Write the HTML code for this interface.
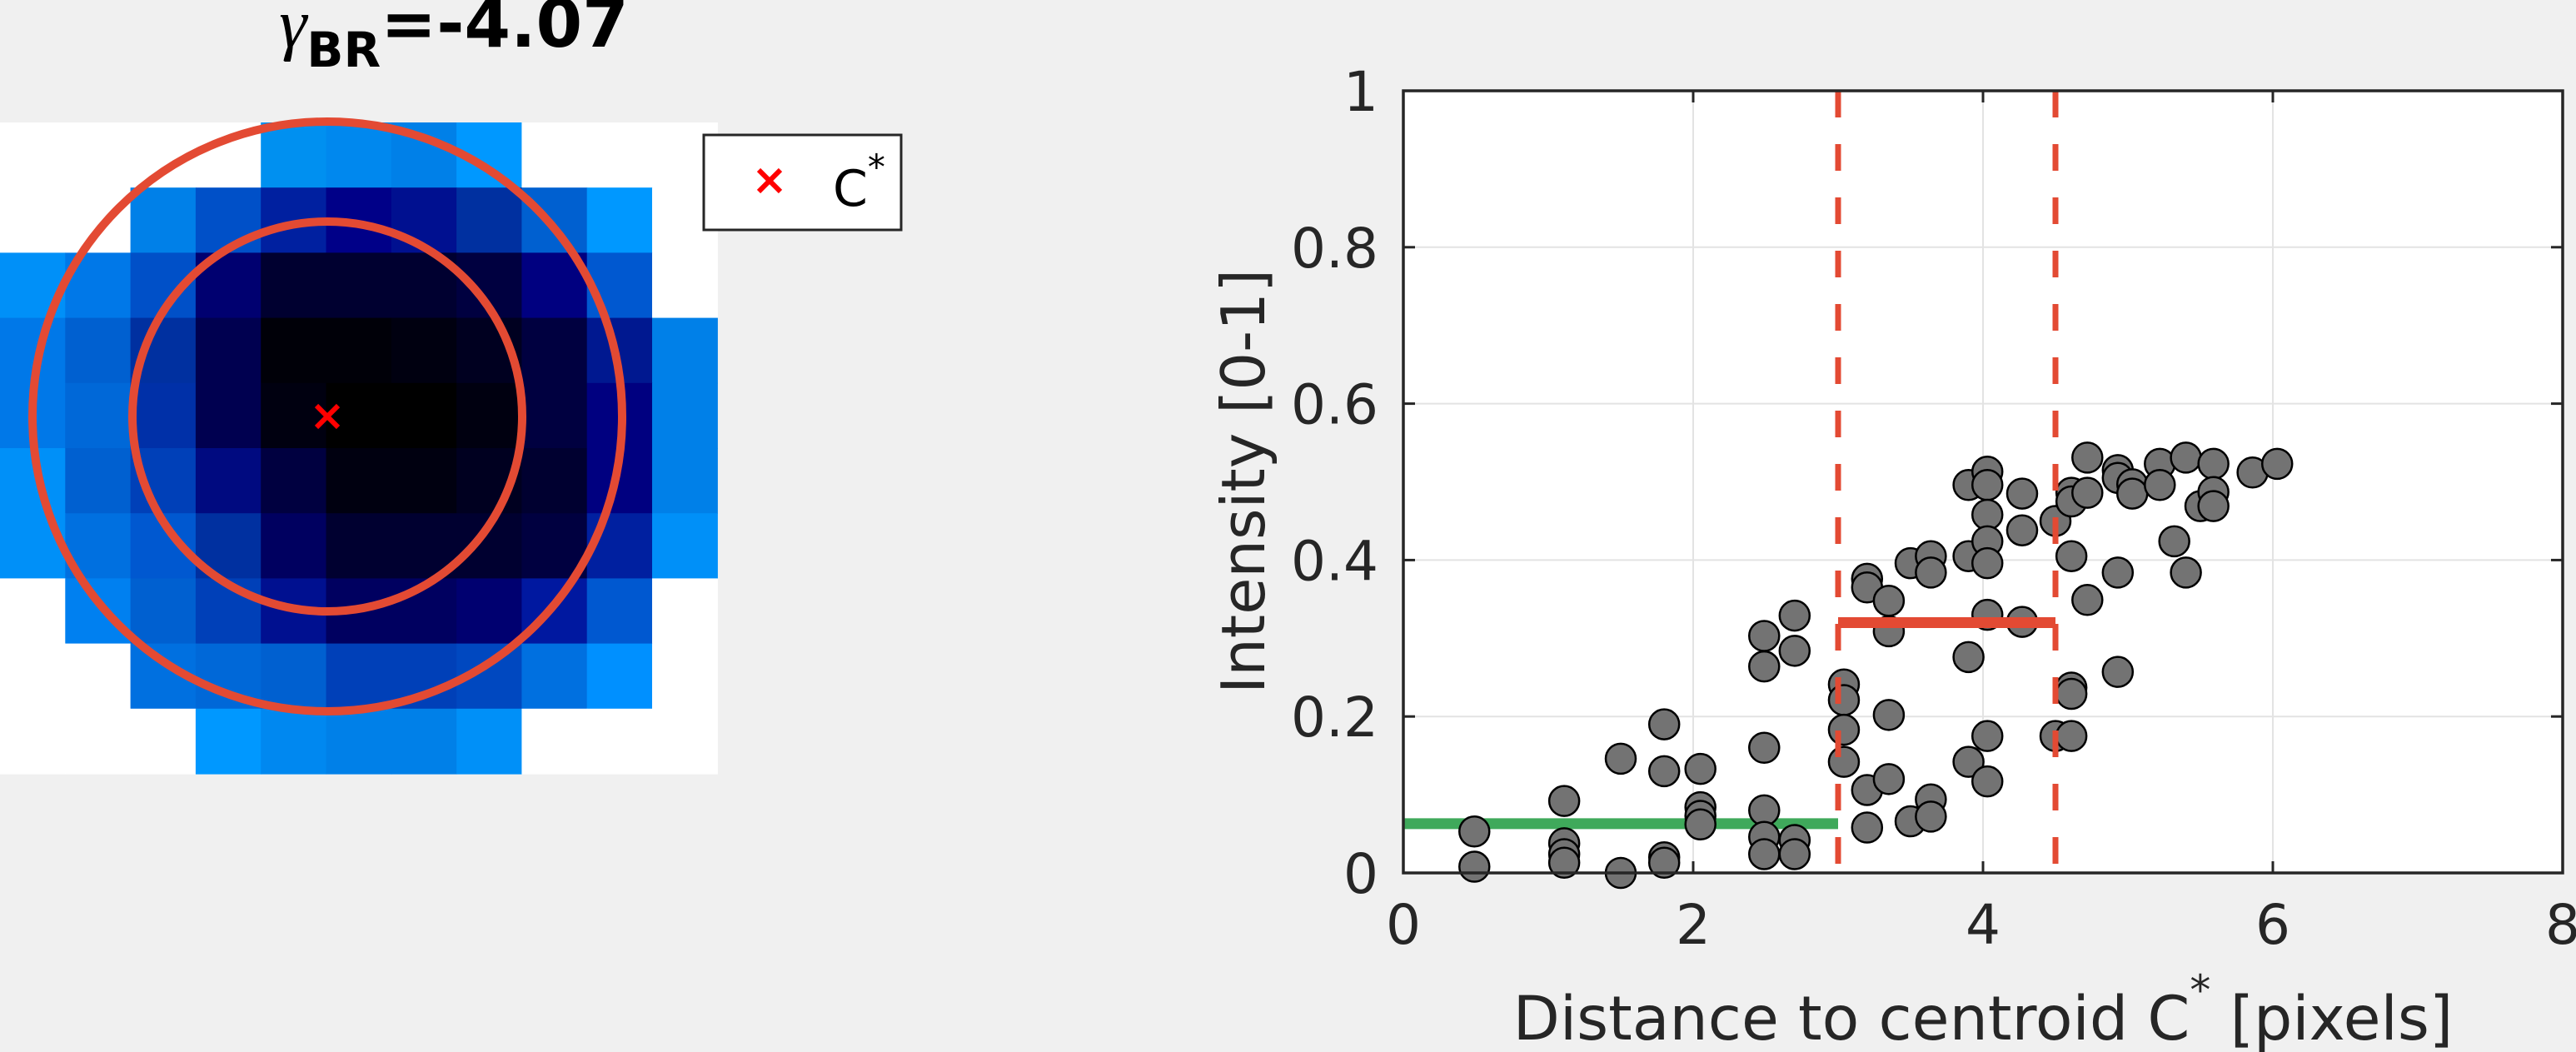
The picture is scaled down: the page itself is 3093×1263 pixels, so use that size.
<!DOCTYPE html>
<html><head><meta charset="utf-8">
<style>
html,body{margin:0;padding:0;background:#f0f0f0;}
svg{display:block;font-family:"DejaVu Sans","Liberation Sans",sans-serif;}
</style></head>
<body>
<svg id="fig" width="3093" height="1263" viewBox="0 0 3093 1263" xmlns="http://www.w3.org/2000/svg">
<rect width="3093" height="1263" fill="#f0f0f0"/>
<g id="left"></g>
<text x="545" y="56" text-anchor="middle" font-size="80" font-weight="bold" fill="#000"><tspan font-style="italic" font-weight="normal" font-family="Liberation Serif, serif" font-size="84">γ</tspan><tspan font-size="58" dy="24">BR</tspan><tspan dy="-24">=-4.07</tspan></text>
<g>
<rect x="845" y="162" width="237" height="114" fill="#fff" stroke="#262626" stroke-width="3"/>
<g stroke="#ff0000" stroke-width="6"><line x1="911" y1="204" x2="937" y2="230"/><line x1="937" y1="204" x2="911" y2="230"/></g>
<text x="1000" y="247" font-size="60" fill="#000">C<tspan font-size="42" dy="-32">*</tspan></text>
</g>
<g id="plot"></g>
</svg>
<script>
// image data (rows top to bottom), null = white
const imgRows = [
 [null,null,null,null,"#0090f0","#0088ee","#0080e8","#0098ff",null,null,null],
 [null,null,"#0080e8","#0050c8","#0020a0","#000088","#001090","#0030a0","#0060d0","#0098ff",null],
 ["#0090f8","#0078e8","#0050c8","#000070","#000030","#000030","#000030","#000040","#000080","#0058d0",null],
 ["#0078e8","#0060d0","#0030a0","#000050","#000008","#000008","#000010","#000020","#000040","#001890","#0080e8"],
 ["#0078e8","#0068d8","#0030a8","#000050","#000010","#000000","#000000","#000010","#000040","#000080","#0080e8"],
 ["#0090f8","#0060d0","#0040b8","#000a80","#000040","#000010","#000010","#000020","#000030","#000080","#0080e8"],
 ["#0090f8","#0070e0","#0058d0","#0030a0","#000060","#000030","#000030","#000030","#000040","#0020a0","#0090f8"],
 [null,"#0080f0","#0060d0","#0040b8","#001090","#000060","#000060","#000070","#0018a0","#0058d0",null],
 [null,null,"#0070e0","#0068d8","#0060d0","#0040b8","#0040b8","#0048c0","#0070e0","#0090ff",null],
 [null,null,null,"#0098ff","#0088f0","#0080e8","#0080e8","#0090f8",null,null,null]
];
const circleRadii = [354, 234];

// scatter data
const distX = [0.49,0.49,1.11,1.11,1.11,1.11,1.50,1.50,1.80,1.80,1.80,1.80,2.05,2.05,2.05,2.05,
 2.49,2.49,2.49,2.49,2.49,2.49,2.70,2.70,2.70,2.70,3.04,3.04,3.04,3.04,3.20,3.20,3.20,3.20,
 3.35,3.35,3.35,3.35,3.50,3.50,3.64,3.64,3.64,3.64,3.90,3.90,3.90,3.90,
 4.03,4.03,4.03,4.03,4.03,4.03,4.03,4.03,4.27,4.27,4.27,4.50,4.50,
 4.61,4.61,4.61,4.61,4.61,4.61,4.72,4.72,4.72,4.93,4.93,4.93,4.93,5.03,5.03,5.22,5.22,5.32,
 5.40,5.40,5.50,5.59,5.59,5.59,5.86,6.03];
const intensityY = [0.053,0.008,0.092,0.038,0.024,0.013,0.146,0.0,0.19,0.13,0.02,0.013,0.133,0.084,0.073,0.062,
 0.303,0.264,0.16,0.08,0.046,0.024,0.329,0.284,0.042,0.024,0.241,0.221,0.183,0.142,0.376,0.365,0.106,0.058,
 0.348,0.309,0.202,0.12,0.396,0.066,0.405,0.384,0.094,0.072,0.496,0.405,0.276,0.142,
 0.513,0.496,0.458,0.424,0.396,0.330,0.175,0.117,0.485,0.438,0.321,0.45,0.175,
 0.486,0.475,0.405,0.237,0.229,0.175,0.531,0.486,0.349,0.515,0.505,0.384,0.257,0.497,0.485,0.523,0.496,0.424,
 0.531,0.384,0.469,0.523,0.487,0.469,0.512,0.523];
const xTicks = [0,2,4,6,8];
const yTicks = [0,0.2,0.4,0.6,0.8,1];
const yTickLabels = ["0","0.2","0.4","0.6","0.8","1"];
const dashX = [3, 4.5];
const greenSeg = [0, 3, 0.063];
const redSeg = [3, 4.5, 0.32];

const NS = "http://www.w3.org/2000/svg";
function mk(tag, attrs, parent){const e=document.createElementNS(NS,tag);for(const k in attrs)e.setAttribute(k,attrs[k]);parent.appendChild(e);return e;}

// left image
const L = document.getElementById('left');
const x0=0,y0=147,cw=78.3,ch=78.2;
imgRows.forEach((row,r)=>row.forEach((c,k)=>{
  const e=mk('rect',{x:x0+k*cw,y:y0+r*ch,width:cw+0.6,height:ch+0.6,fill:c||"#ffffff"},L);
  
  
}));
circleRadii.forEach(rad=>{
  const e=mk('circle',{cx:393,cy:500,r:rad,fill:"none",stroke:"#e34a33","stroke-width":10},L);
  
  
});
const cx=mk('g',{stroke:"#ff0000","stroke-width":6},L);


mk('line',{x1:380,y1:487,x2:406,y2:513},cx);mk('line',{x1:406,y1:487,x2:380,y2:513},cx);

// scatter plot
const P=document.getElementById('plot');
const AX={l:1685,r:3077,t:109,b:1048};
const sx=v=>AX.l+(v-0)/8*(AX.r-AX.l);
const sy=v=>AX.b-(v-0)/1*(AX.b-AX.t);
mk('rect',{x:AX.l,y:AX.t,width:AX.r-AX.l,height:AX.b-AX.t,fill:"#fff"},P);
xTicks.forEach(t=>{
  if(t>0&&t<8){const g=mk('line',{x1:sx(t),x2:sx(t),y1:AX.t,y2:AX.b,stroke:"#e3e3e3","stroke-width":2},P);
  }
  mk('line',{x1:sx(t),x2:sx(t),y1:AX.b,y2:AX.b-14,stroke:"#262626","stroke-width":3},P);
  mk('line',{x1:sx(t),x2:sx(t),y1:AX.t,y2:AX.t+14,stroke:"#262626","stroke-width":3},P);
  const tx=mk('text',{x:sx(t),y:1133,"text-anchor":"middle","font-size":66,fill:"#262626"},P);
  tx.textContent=String(t);
  
  
});
yTicks.forEach((t,i)=>{
  if(t>0&&t<1){const g=mk('line',{x1:AX.l,x2:AX.r,y1:sy(t),y2:sy(t),stroke:"#e3e3e3","stroke-width":2},P);
  }
  mk('line',{x1:AX.l,x2:AX.l+14,y1:sy(t),y2:sy(t),stroke:"#262626","stroke-width":3},P);
  mk('line',{x1:AX.r,x2:AX.r-14,y1:sy(t),y2:sy(t),stroke:"#262626","stroke-width":3},P);
  const tx=mk('text',{x:1655,y:sy(t)+24,"text-anchor":"end","font-size":66,fill:"#262626"},P);
  tx.textContent=yTickLabels[i];
  
  
});
const gl=mk('line',{x1:sx(greenSeg[0]),x2:sx(greenSeg[1]),y1:sy(greenSeg[2]),y2:sy(greenSeg[2]),stroke:"#3fa95b","stroke-width":13},P);


distX.forEach((v,i)=>{
  const c=mk('circle',{cx:sx(v),cy:sy(intensityY[i]),r:18,fill:"#737373",stroke:"#000","stroke-width":2.5},P);
  
  
});
dashX.forEach(v=>{
  const d=mk('line',{x1:sx(v),x2:sx(v),y1:AX.t,y2:AX.b,stroke:"#e34a33","stroke-width":7,"stroke-dasharray":"32 32"},P);
  
  
});
const rl=mk('line',{x1:sx(redSeg[0]),x2:sx(redSeg[1]),y1:sy(redSeg[2]),y2:sy(redSeg[2]),stroke:"#e34a33","stroke-width":13},P);


const box=mk('rect',{x:AX.l,y:AX.t,width:AX.r-AX.l,height:AX.b-AX.t,fill:"none",stroke:"#262626","stroke-width":3.5},P);


const xl=mk('text',{x:(AX.l+AX.r)/2,y:1248,"text-anchor":"middle","font-size":73,fill:"#262626"},P);


xl.innerHTML='Distance to centroid C<tspan font-size="50" dy="-42">*</tspan><tspan dy="42"> [pixels]</tspan>';
const yl=mk('text',{x:0,y:0,"text-anchor":"middle","font-size":72,fill:"#262626",transform:"translate(1518,578) rotate(-90)"},P);


yl.textContent='Intensity [0-1]';
</script>
</body></html>
